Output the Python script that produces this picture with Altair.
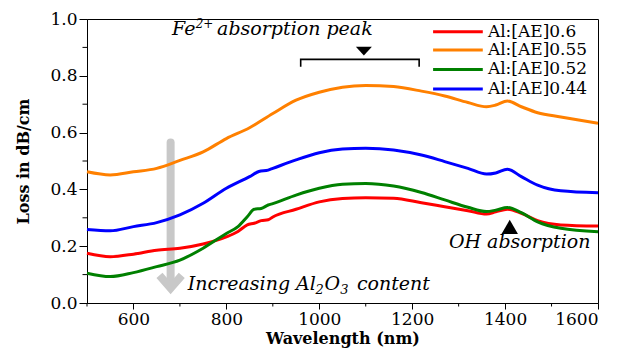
import altair as alt
import pandas as pd

# ---------------- data ----------------
series_names = ["Al:[AE]0.6", "Al:[AE]0.55", "Al:[AE]0.52", "Al:[AE]0.44"]
series_colors = ["#ff0000", "#ff8000", "#008000", "#0000ff"]

wl_06 = [500, 550, 600, 650, 700, 750, 800, 825, 845, 860, 875, 890, 900, 950, 1000, 1050,
         1100, 1160, 1220, 1270, 1320, 1360, 1380, 1405, 1435, 1470, 1520, 1600]
loss_06 = [0.175, 0.163, 0.172, 0.186, 0.193, 0.208, 0.233, 0.252, 0.275, 0.281, 0.290, 0.293,
           0.303, 0.330, 0.356, 0.368, 0.371, 0.369, 0.353, 0.339, 0.325, 0.313, 0.321, 0.330,
           0.316, 0.290, 0.275, 0.271]

wl_055 = [500, 550, 600, 650, 700, 750, 800, 850, 900, 950, 1000, 1050, 1100, 1160, 1220,
          1270, 1320, 1360, 1380, 1405, 1435, 1470, 1520, 1600]
loss_055 = [0.462, 0.451, 0.462, 0.474, 0.502, 0.532, 0.579, 0.617, 0.667, 0.714, 0.742, 0.760,
            0.766, 0.762, 0.746, 0.729, 0.706, 0.691, 0.697, 0.711, 0.691, 0.670, 0.655, 0.633]

wl_052 = [500, 550, 600, 650, 700, 750, 800, 825, 845, 860, 875, 890, 900, 950, 1000, 1050,
          1100, 1160, 1220, 1270, 1320, 1360, 1380, 1405, 1435, 1470, 1520, 1600]
loss_052 = [0.105, 0.093, 0.107, 0.128, 0.151, 0.193, 0.245, 0.269, 0.304, 0.330, 0.333, 0.345,
            0.350, 0.380, 0.404, 0.418, 0.421, 0.412, 0.389, 0.363, 0.337, 0.322, 0.327, 0.336,
            0.318, 0.286, 0.263, 0.251]

wl_044 = [500, 550, 600, 650, 700, 750, 800, 850, 870, 890, 900, 950, 1000, 1050, 1100, 1160,
          1220, 1270, 1320, 1360, 1380, 1405, 1435, 1470, 1520, 1600]
loss_044 = [0.259, 0.254, 0.269, 0.283, 0.310, 0.351, 0.404, 0.445, 0.463, 0.468, 0.474, 0.504,
            0.529, 0.542, 0.545, 0.539, 0.521, 0.498, 0.474, 0.454, 0.458, 0.471, 0.445, 0.415,
            0.395, 0.388]

x_major = [600, 800, 1000, 1200, 1400, 1600]
x_minor = [500, 700, 900, 1100, 1300, 1500]
y_major = [0.0, 0.2, 0.4, 0.6, 0.8, 1.0]
y_minor = [0.1, 0.3, 0.5, 0.7, 0.9]

# legend (custom, inside the plot)
legend_y = [0.955, 0.891, 0.8225, 0.7535]
legend_x0, legend_x1, legend_tx = 1245, 1352, 1363

FONT = "DejaVu Serif"
W, H = 511, 284

rows = []
for i, (name, wls, vals) in enumerate(zip(series_names,
                                          [wl_06, wl_055, wl_052, wl_044],
                                          [loss_06, loss_055, loss_052, loss_044])):
    for w, v in zip(wls, vals):
        rows.append({"series": name, "wl": w, "loss": v})
df = pd.DataFrame(rows)

xs = alt.Scale(domain=[500, 1600], nice=False, zero=False)
ys = alt.Scale(domain=[0, 1], nice=False)
cs = alt.Scale(domain=series_names, range=series_colors)

# minor ticks drawn as short rules just outside the axes
minor_x = alt.Chart(pd.DataFrame({"v": x_minor})).mark_rule(color="black", strokeWidth=1).encode(
    x=alt.X("v:Q", scale=xs), y=alt.value(H), y2=alt.value(H + 3.5))
minor_y = alt.Chart(pd.DataFrame({"v": y_minor})).mark_rule(color="black", strokeWidth=1).encode(
    y=alt.Y("v:Q", scale=ys), x=alt.value(0), x2=alt.value(-4.5))

lines = alt.Chart(df).mark_line(strokeWidth=3, interpolate="monotone").encode(
    x=alt.X("wl:Q", scale=xs, axis=alt.Axis(values=x_major, format="d", title="Wavelength (nm)",
                                             tickSize=6, labelPadding=2, titlePadding=3, grid=False)),
    y=alt.Y("loss:Q", scale=ys, axis=alt.Axis(values=y_major, format=".1f", title="Loss in dB/cm",
                                               tickSize=8, labelPadding=2, titlePadding=18, grid=False)),
    color=alt.Color("series:N", scale=cs, legend=None),
    detail="series:N",
)

# legend
leg_df = pd.DataFrame({"series": series_names, "y": legend_y,
                       "x0": [legend_x0] * 4, "x1": [legend_x1] * 4, "tx": [legend_tx] * 4})
leg_rules = alt.Chart(leg_df).mark_rule(strokeWidth=3).encode(
    x=alt.X("x0:Q", scale=xs), x2="x1:Q", y=alt.Y("y:Q", scale=ys),
    color=alt.Color("series:N", scale=cs, legend=None))
leg_text = alt.Chart(leg_df).mark_text(align="left", baseline="middle", font=FONT, fontSize=17,
                                        color="black").encode(
    x=alt.X("tx:Q", scale=xs), y=alt.Y("y:Q", scale=ys), text="series:N")

# gray arrow
arrow_shaft = pd.DataFrame({"x": [680], "y": [0.565], "y2": [0.07]})
shaft = alt.Chart(arrow_shaft).mark_rule(strokeWidth=8, color="#c8c8c8", strokeCap="round").encode(
    x=alt.X("x:Q", scale=xs), y=alt.Y("y:Q", scale=ys), y2="y2:Q")
arrow_head = pd.DataFrame({"x": [656, 680, 704], "y": [0.097, 0.052, 0.097], "o": [0, 1, 2]})
head = alt.Chart(arrow_head).mark_line(strokeWidth=8, color="#c8c8c8", strokeJoin="miter",
                                       strokeCap="butt").encode(
    x=alt.X("x:Q", scale=xs), y=alt.Y("y:Q", scale=ys), order="o:Q")

# bracket for Fe2+ peak
br = pd.DataFrame({"x": [960, 960, 1215, 1215], "y": [0.832, 0.858, 0.858, 0.832], "o": [0, 1, 2, 3]})
bracket = alt.Chart(br).mark_line(strokeWidth=1.6, color="black").encode(
    x=alt.X("x:Q", scale=xs), y=alt.Y("y:Q", scale=ys), order="o:Q")

tri_down = alt.Chart(pd.DataFrame({"x": [1096], "y": [0.887]})).mark_point(
    shape="M-1,-0.55L1,-0.55L0,0.55Z", size=256, filled=True, color="black", opacity=1).encode(
    x=alt.X("x:Q", scale=xs), y=alt.Y("y:Q", scale=ys))
tri_up = alt.Chart(pd.DataFrame({"x": [1410], "y": [0.268]})).mark_point(
    shape="triangle-up", size=270, filled=True, color="black", opacity=1).encode(
    x=alt.X("x:Q", scale=xs), y=alt.Y("y:Q", scale=ys))

# annotation texts
ann = pd.DataFrame({
    "x": [683, 734, 780, 1279, 717, 992, 1011, 1045, 1081],
    "y": [0.944, 0.968, 0.944, 0.194, 0.046, 0.030, 0.046, 0.030, 0.046],
    "t": ["Fe", "2+", "absorption peak", "OH absorption", "Increasing Al", "2", "O", "3", "content"],
    "s": [19, 12, 19, 19, 19, 13, 19, 13, 19],
})
texts = alt.Chart(ann).mark_text(align="left", baseline="alphabetic", font=FONT, fontStyle="italic",
                                  color="black").encode(
    x=alt.X("x:Q", scale=xs), y=alt.Y("y:Q", scale=ys), text="t:N",
    size=alt.Size("s:Q", scale=None, legend=None))

chart = alt.layer(shaft, head, lines, leg_rules, leg_text, bracket, tri_down, tri_up, texts,
                  minor_x, minor_y).properties(
    width=W, height=H,
    padding={"left": 79, "top": 11, "right": 15, "bottom": 52},
    autosize=alt.AutoSizeParams(type="none"),
).configure_view(stroke="black", strokeWidth=1).configure_axis(
    labelFont=FONT, labelFontSize=17, labelColor="black",
    titleFont=FONT, titleFontSize=16, titleFontWeight="bold", titleColor="black",
    domainColor="black", tickColor="black", domainWidth=1, tickWidth=1,
)

chart.save("out.html", embed_options={"renderer": "svg", "actions": False})
